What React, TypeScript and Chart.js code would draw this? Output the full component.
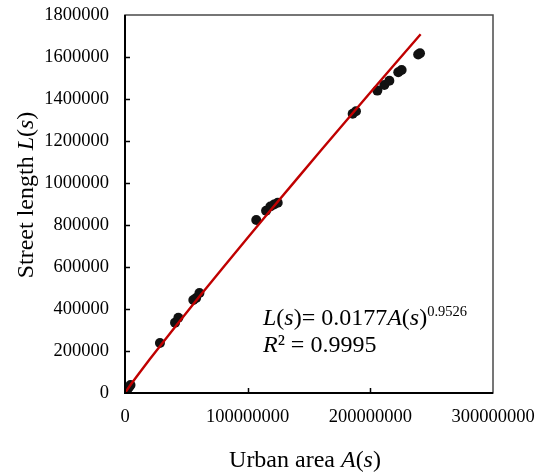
import React, { useEffect, useRef } from "react";
import { Chart, registerables } from "chart.js";

Chart.register(...registerables);

// Urban area A(s) (x) and street length L(s) (y) observations
const areaValues = [
  800000, 2000000, 3500000, 4500000, 28500000, 40800000, 43500000, 55700000,
  58000000, 60700000, 107000000, 115000000, 118500000, 121500000, 124500000,
  185600000, 188300000, 205700000, 211400000, 215500000, 222800000, 225500000,
  239000000, 240500000,
];
const lengthValues = [
  8000, 18000, 30000, 38000, 238000, 335000, 358000, 443000, 452000, 476000,
  824000, 868000, 888000, 898000, 906000, 1330000, 1342000, 1440000, 1467000,
  1487000, 1527000, 1538000, 1612000, 1618000,
];

// Power-law trend line L = c * A^b (fit reported in the chart)
const fitCoefficient = 0.0177;
const fitExponent = 0.9526;
const fitSampleAreas = [
  100000, 1000000, 5000000, 10000000, 20000000, 40000000, 60000000, 80000000,
  100000000, 120000000, 140000000, 160000000, 180000000, 200000000, 220000000,
  241000000,
];

const xAxisMin = 0;
const xAxisMax = 300000000;
const xAxisStep = 100000000;
const yAxisMin = 0;
const yAxisMax = 1800000;
const yAxisStep = 200000;

const xTitleParts: [string, boolean][] = [
  ["Urban area ", false],
  ["A", true],
  ["(", false],
  ["s", true],
  [")", false],
];
const yTitleParts: [string, boolean][] = [
  ["Street length ", false],
  ["L", true],
  ["(", false],
  ["s", true],
  [")", false],
];
const eqLine1Parts: [string, boolean][] = [
  ["L", true],
  ["(", false],
  ["s", true],
  [")= 0.0177", false],
  ["A", true],
  ["(", false],
  ["s", true],
  [")", false],
];
const eqExponent = "0.9526";
const eqLine2Parts: [string, boolean][] = [
  ["R", true],
  ["² = 0.9995", false],
];

const FONT = "'Liberation Serif', 'Times New Roman', serif";

function partsWidth(ctx: CanvasRenderingContext2D, parts: [string, boolean][], size: number) {
  let w = 0;
  for (const [t, it] of parts) {
    ctx.font = `${it ? "italic " : ""}${size}px ${FONT}`;
    w += ctx.measureText(t).width;
  }
  return w;
}

function drawParts(
  ctx: CanvasRenderingContext2D,
  parts: [string, boolean][],
  x: number,
  y: number,
  size: number
) {
  let cx = x;
  for (const [t, it] of parts) {
    ctx.font = `${it ? "italic " : ""}${size}px ${FONT}`;
    ctx.fillText(t, cx, y);
    cx += ctx.measureText(t).width;
  }
  return cx;
}

const decorPlugin = {
  id: "decor",
  afterDatasetsDraw(chart: any) {
    const ctx: CanvasRenderingContext2D = chart.ctx;
    const { left, right, top, bottom } = chart.chartArea;
    const xs = chart.scales.x;
    const ys = chart.scales.y;
    ctx.save();
    // frame
    ctx.strokeStyle = "#4a4a4a";
    ctx.lineWidth = 1.5;
    ctx.strokeRect(left, top, right - left, bottom - top);
    // axes
    ctx.strokeStyle = "#000";
    ctx.lineWidth = 2;
    ctx.beginPath();
    ctx.moveTo(left, top);
    ctx.lineTo(left, bottom);
    ctx.lineTo(right, bottom);
    ctx.stroke();
    // inside ticks
    ctx.lineWidth = 1.5;
    ctx.beginPath();
    for (let v = yAxisMin + yAxisStep; v < yAxisMax; v += yAxisStep) {
      const py = Math.round(ys.getPixelForValue(v)) + 0.5;
      ctx.moveTo(left, py);
      ctx.lineTo(left + 5, py);
    }
    for (let v = xAxisMin + xAxisStep; v < xAxisMax; v += xAxisStep) {
      const px = Math.round(xs.getPixelForValue(v)) + 0.5;
      ctx.moveTo(px, bottom);
      ctx.lineTo(px, bottom - 5);
    }
    ctx.stroke();

    ctx.fillStyle = "#000";
    ctx.textBaseline = "alphabetic";
    ctx.textAlign = "left";
    // x title
    const tSize = 24;
    const xw = partsWidth(ctx, xTitleParts, tSize);
    drawParts(ctx, xTitleParts, 305 - xw / 2, 467, tSize);
    // y title
    const yw = partsWidth(ctx, yTitleParts, tSize);
    ctx.save();
    ctx.translate(33, 195);
    ctx.rotate(-Math.PI / 2);
    drawParts(ctx, yTitleParts, -yw / 2, 0, tSize);
    ctx.restore();
    // equation
    const eSize = 24;
    const endX = drawParts(ctx, eqLine1Parts, 263, 325, eSize);
    ctx.font = `14.5px ${FONT}`;
    ctx.fillText(eqExponent, endX, 316);
    drawParts(ctx, eqLine2Parts, 263, 352, eSize);
    ctx.restore();
  },
};

export default function App() {
  const canvasRef = useRef<HTMLCanvasElement | null>(null);

  useEffect(() => {
    if (!canvasRef.current) return;
    const scatterData = areaValues.map((a, i) => ({ x: a, y: lengthValues[i] }));
    const fitData = [{ x: 0, y: 0 }].concat(
      fitSampleAreas.map((a) => ({ x: a, y: fitCoefficient * Math.pow(a, fitExponent) }))
    );
    const tickFont = { family: FONT, size: 18.5 };
    const chart = new Chart(canvasRef.current, {
      type: "scatter",
      data: {
        datasets: [
          {
            type: "line",
            data: fitData,
            borderColor: "#C00000",
            borderWidth: 2.4,
            pointRadius: 0,
            fill: false,
            tension: 0,
            order: 0,
          } as any,
          {
            data: scatterData,
            backgroundColor: "#111",
            borderColor: "#111",
            pointRadius: 5,
            pointBorderWidth: 0,
            order: 1,
          },
        ],
      },
      options: {
        responsive: false,
        animation: false,
        layout: { padding: { top: 15, right: 43, left: 0, bottom: 0 } },
        plugins: {
          legend: { display: false },
          tooltip: { enabled: false },
        },
        scales: {
          x: {
            type: "linear",
            min: xAxisMin,
            max: xAxisMax,
            grid: { display: false, drawTicks: false },
            border: { display: false },
            ticks: {
              stepSize: xAxisStep,
              autoSkip: false,
              maxRotation: 0,
              padding: 13,
              color: "#000",
              font: tickFont,
              callback: (v: any) => String(v),
            },
            afterFit: (s: any) => {
              s.height = 83;
              s.paddingLeft = 0;
              s.paddingRight = 0;
            },
          },
          y: {
            type: "linear",
            min: yAxisMin,
            max: yAxisMax,
            grid: { display: false, drawTicks: false },
            border: { display: false },
            ticks: {
              stepSize: yAxisStep,
              autoSkip: false,
              padding: 16,
              color: "#000",
              font: tickFont,
              callback: (v: any) => String(v),
            },
            afterFit: (s: any) => {
              s.width = 125;
              s.paddingTop = 0;
              s.paddingBottom = 0;
            },
          },
        },
      },
      plugins: [decorPlugin],
    });
    return () => chart.destroy();
  }, []);

  return (
    <div style={{ position: "absolute", left: 0, top: 0, width: 536, height: 476, background: "#fff" }}>
      <canvas ref={canvasRef} width={536} height={476} />
    </div>
  );
}
